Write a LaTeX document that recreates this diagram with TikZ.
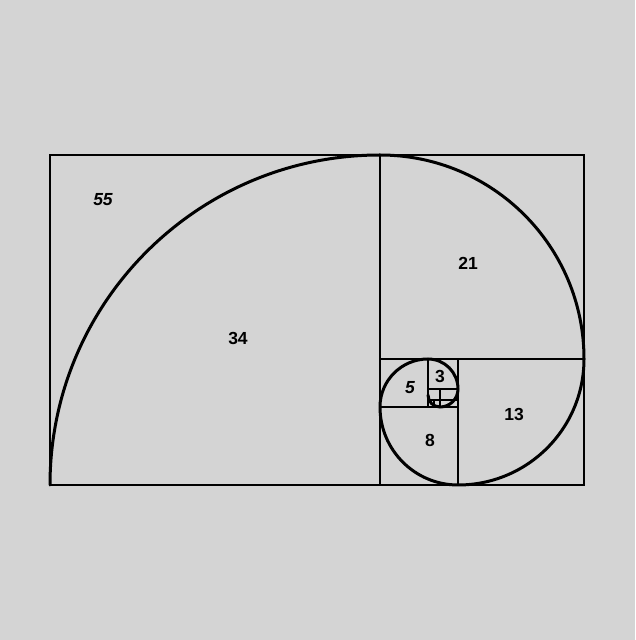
\documentclass[tikz,border=0pt]{standalone}
\usepackage{fontspec}
\setmainfont{Liberation Sans}
\definecolor{bg}{HTML}{D4D4D4}
\begin{document}
\begin{tikzpicture}[x=1pt,y=1pt,
  grid/.style={line width=1.5pt,black},
  spiral/.style={line width=3pt,black},
  lbl/.style={font=\fontsize{17.5}{20}\selectfont\bfseries, text=black, inner sep=0pt}]
\fill[bg] (0,0) rectangle (635,640);
\useasboundingbox (0,0) rectangle (635,640);
% squares
\draw[grid] (50,155) rectangle (584,485);
\draw[grid] (380,155) -- (380,485);
\draw[grid] (380,281) -- (584,281);
\draw[grid] (458,155) -- (458,281);
\draw[grid] (380,233) -- (458,233);
\draw[grid] (428,233) -- (428,281);
\draw[grid] (428,251) -- (458,251);
\draw[grid] (440,233) -- (440,251);
\draw[grid] (428,240) -- (458,240);
\draw[grid] (434,233) -- (434,240);
% spiral
\draw[spiral,line cap=round] (50,155) arc[start angle=180,end angle=90,radius=330]
  arc[start angle=90,end angle=0,radius=204]
  arc[start angle=0,end angle=-90,radius=126]
  arc[start angle=-90,end angle=-180,radius=78]
  arc[start angle=180,end angle=90,radius=48]
  arc[start angle=90,end angle=0,radius=30]
  arc[start angle=0,end angle=-90,radius=18]
  arc[start angle=-90,end angle=-180,radius=12];
% labels
\node[lbl,font=\fontsize{17.5}{20}\selectfont\bfseries\itshape] (l55) at (103,440) {55};
\node[lbl] (l34) at (238,302) {34};
\node[lbl] (l21) at (468,377) {21};
\node[lbl] (l13) at (514,226) {13};
\node[lbl] (l8) at (430,200) {8};
\node[lbl,font=\fontsize{17.5}{20}\selectfont\bfseries\itshape] (l5) at (410,252) {5};
\node[lbl] (l3) at (440,264) {3};
\end{tikzpicture}
\end{document}
